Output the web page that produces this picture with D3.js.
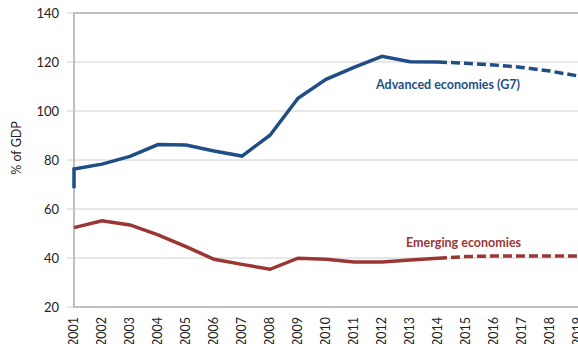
<!DOCTYPE html>
<html><head><meta charset="utf-8">
<script src="https://cdn.jsdelivr.net/npm/d3@7"></script>
<style>body{margin:0;background:#fff}svg{display:block}</style>
</head><body>
<svg id="c" width="578" height="344"></svg>
<script>
const years = [2001,2002,2003,2004,2005,2006,2007,2008,2009,2010,2011,2012,2013,2014,2015,2016,2017,2018,2019];
const yTicks = [20,40,60,80,100,120,140];
// advanced economies: first value is the year-2000 point that falls before the axis
const advStartYear = 2000, advStartValue = 68.5;
const advanced = [76.3,78.3,81.5,86.3,86.1,83.7,81.6,90.1,105.2,112.9,117.8,122.3,120.1,120.0,119.5,118.8,117.8,116.3,114.3];
const emerging = [52.4,55.2,53.5,49.4,44.6,39.5,37.4,35.4,39.9,39.5,38.4,38.4,39.2,39.9,40.6,40.8,40.8,40.8,40.8];
const lastActual = 2014;

const svg = d3.select("#c");
const L = 74, R = 578, T = 13, B = 307;
const x = d3.scaleLinear().domain([2001,2019]).range([L,R]).clamp(true);
const y = d3.scaleLinear().domain([20,140]).range([B,T]);
const blue = "#1F4E87", red = "#9A3634", grid = "#D0D0D0", frame = "#BFBFBF";
const font = "Lato, 'Liberation Sans', sans-serif";

// gridlines with left ticks
svg.append("g").selectAll("line").data(yTicks.filter(v=>v>20 && v<140)).join("line")
  .attr("x1", L-7).attr("x2", R).attr("y1", d=>y(d)).attr("y2", d=>y(d))
  .attr("stroke", grid).attr("stroke-width", 1);
svg.append("g").selectAll("line").data([20,140]).join("line")
  .attr("x1", L-7).attr("x2", L).attr("y1", d=>y(d)).attr("y2", d=>y(d))
  .attr("stroke", grid).attr("stroke-width", 1);
// frame
svg.append("path").attr("d", `M${R},${T}H${L}V${B}H${R}`)
  .attr("fill","none").attr("stroke", frame).attr("stroke-width", 2);

// y tick labels
svg.append("g").selectAll("text").data(yTicks).join("text")
  .attr("x", 59).attr("y", d=>y(d)).attr("dy","0.35em").attr("text-anchor","end")
  .attr("font-family", font).attr("font-size", 13).attr("fill","#222").text(d=>d);

// y title
svg.append("text").attr("transform", `translate(21,${(T+B)/2-12}) rotate(-90)`)
  .attr("text-anchor","middle").attr("font-family", font).attr("font-size", 12.5)
  .attr("fill","#222").text("% of GDP");

// x labels
svg.append("g").selectAll("text").data(years).join("text")
  .attr("transform", d=>`translate(${x(d)},317) rotate(-90)`)
  .attr("dy","0.35em").attr("text-anchor","end")
  .attr("font-family", font).attr("font-size", 12.5).attr("fill","#222").text(d=>d);

const line = d3.line().x(d=>x(d[0])).y(d=>y(d[1]));
const advPts = years.map((yr,i)=>[yr, advanced[i]]);
const emPts = years.map((yr,i)=>[yr, emerging[i]]);
const advSolid = [[advStartYear, advStartValue]].concat(advPts.filter(d=>d[0]<=lastActual));
const advDash = advPts.filter(d=>d[0]>=lastActual);
const emSolid = emPts.filter(d=>d[0]<=lastActual);
const emDash = emPts.filter(d=>d[0]>=lastActual);

svg.append("path").attr("d", line(emSolid)).attr("fill","none").attr("stroke", red)
  .attr("stroke-width", 3.5).attr("stroke-linejoin","miter");
svg.append("path").attr("d", line(emDash)).attr("fill","none").attr("stroke", red)
  .attr("stroke-width", 3.5).attr("stroke-dasharray","9,4");
svg.append("path").attr("d", line(advSolid)).attr("fill","none").attr("stroke", blue)
  .attr("stroke-width", 3.5).attr("stroke-linejoin","miter");
svg.append("path").attr("d", line(advDash)).attr("fill","none").attr("stroke", blue)
  .attr("stroke-width", 3.5).attr("stroke-dasharray","9,4");

// series labels
svg.append("text").attr("x", 376).attr("y", 89).attr("font-family", font)
  .attr("font-weight","bold").attr("font-size", 12.5).attr("fill", blue).text("Advanced economies (G7)");
svg.append("text").attr("x", 406).attr("y", 247).attr("font-family", font)
  .attr("font-weight","bold").attr("font-size", 12.5).attr("fill", red).text("Emerging economies");
</script>
</body></html>
